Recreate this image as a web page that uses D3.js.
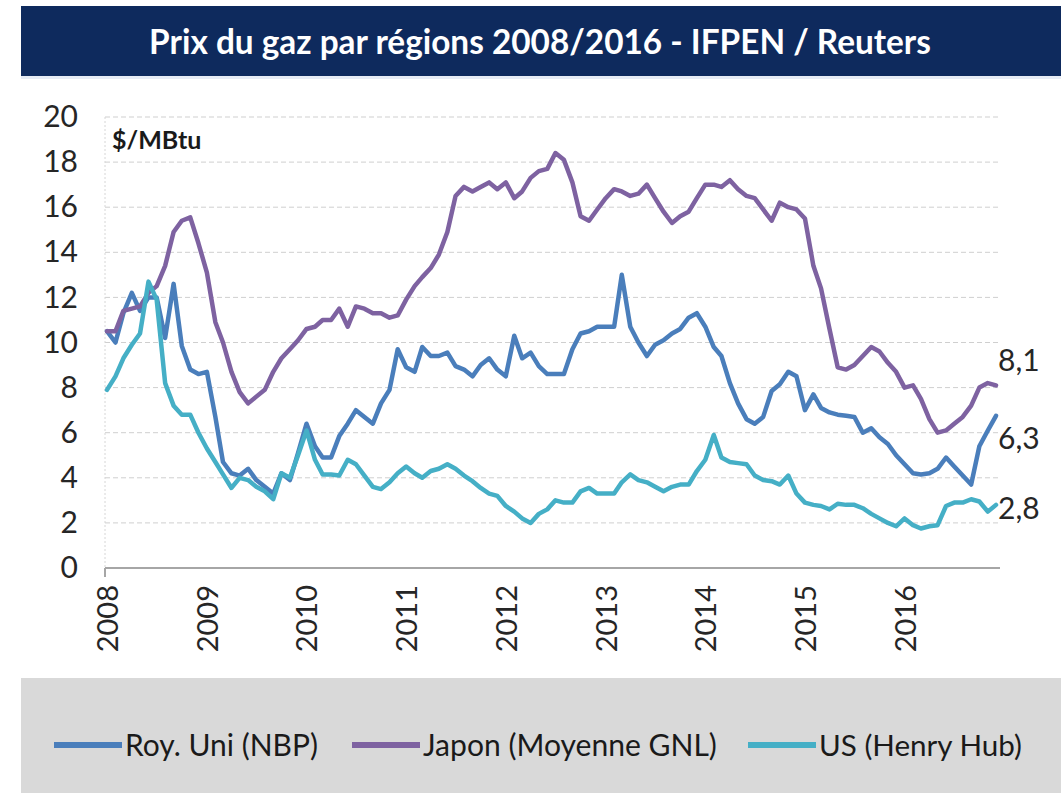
<!DOCTYPE html>
<html>
<head>
<meta charset="utf-8">
<script src="https://cdn.jsdelivr.net/npm/d3@7"></script>
<style>
  body { margin: 0; background: #fff; }
  svg { display: block; font-family: Lato, "Open Sans", sans-serif; }
</style>
</head>
<body>
<div id="chart"></div>
<script>
// Prix du gaz par regions, mensuel, janv. 2008 - dec. 2016 ($/MBtu)
var years = [2008, 2009, 2010, 2011, 2012, 2013, 2014, 2015, 2016];

var seriesNames = ["Roy. Uni (NBP)", "Japon (Moyenne GNL)", "US (Henry Hub)"];
var seriesColors = ["#4a7ebb", "#7e62a1", "#45afc6"];

// Roy. Uni (NBP)
var nbp = [
	10.5, 10.0, 11.3, 12.2, 11.4, 12.0, 12.0, 10.2, 12.6, 9.85, 8.8, 8.6,
	8.7, 6.7, 4.7, 4.2, 4.1, 4.4, 3.9, 3.6, 3.3, 4.2, 3.9, 5.1,
	6.4, 5.4, 4.9, 4.9, 5.85, 6.4, 7.0, 6.7, 6.4, 7.3, 7.9, 9.7,
	8.9, 8.7, 9.8, 9.4, 9.4, 9.55, 8.95, 8.8, 8.5, 9.0, 9.3, 8.8,
	8.5, 10.3, 9.3, 9.55, 8.95, 8.6, 8.6, 8.6, 9.7, 10.4, 10.5, 10.7,
	10.7, 10.7, 13.0, 10.7, 10.0, 9.4, 9.9, 10.1, 10.4, 10.6, 11.1, 11.3,
	10.7, 9.8, 9.4, 8.2, 7.3, 6.6, 6.4, 6.7, 7.85, 8.15, 8.7, 8.5,
	7.0, 7.7, 7.1, 6.9, 6.8, 6.75, 6.7, 6.0, 6.2, 5.8, 5.5, 5.0,
	4.6, 4.2, 4.15, 4.2, 4.4, 4.9, 4.5, 4.1, 3.7, 5.4, 6.1, 6.75
];

// Japon (Moyenne GNL)
var japon = [
	10.5, 10.5, 11.4, 11.5, 11.6, 12.2, 12.5, 13.4, 14.9, 15.4, 15.55, 14.4,
	13.1, 10.9, 10.0, 8.7, 7.8, 7.3, 7.6, 7.9, 8.7, 9.3, 9.7, 10.1,
	10.6, 10.7, 11.0, 11.0, 11.5, 10.7, 11.6, 11.5, 11.3, 11.3, 11.1, 11.2,
	11.9, 12.5, 12.9, 13.3, 13.9, 14.9, 16.5, 16.9, 16.7, 16.9, 17.1, 16.8,
	17.1, 16.4, 16.7, 17.3, 17.6, 17.7, 18.4, 18.1, 17.1, 15.6, 15.4, 15.9,
	16.4, 16.8, 16.7, 16.5, 16.6, 17.0, 16.4, 15.8, 15.3, 15.6, 15.8, 16.4,
	17.0, 17.0, 16.9, 17.2, 16.8, 16.5, 16.4, 15.9, 15.4, 16.2, 16.0, 15.9,
	15.5, 13.4, 12.4, 10.6, 8.9, 8.8, 9.0, 9.4, 9.8, 9.6, 9.1, 8.7,
	8.0, 8.1, 7.5, 6.6, 6.0, 6.1, 6.4, 6.7, 7.2, 8.0, 8.2, 8.1
];

// US (Henry Hub)
var henryHub = [
	7.9, 8.5, 9.3, 9.9, 10.4, 12.7, 11.9, 8.2, 7.2, 6.8, 6.8, 6.0,
	5.3, 4.7, 4.15, 3.55, 4.0, 3.9, 3.6, 3.4, 3.05, 4.2, 4.0, 5.0,
	6.1, 4.8, 4.15, 4.15, 4.1, 4.8, 4.6, 4.1, 3.6, 3.5, 3.8, 4.2,
	4.5, 4.2, 4.0, 4.3, 4.4, 4.6, 4.4, 4.1, 3.85, 3.55, 3.3, 3.2,
	2.75, 2.5, 2.2, 2.0, 2.4, 2.6, 3.0, 2.9, 2.9, 3.4, 3.55, 3.3,
	3.3, 3.3, 3.8, 4.15, 3.9, 3.8, 3.6, 3.4, 3.6, 3.7, 3.7, 4.3,
	4.8, 5.9, 4.9, 4.7, 4.65, 4.6, 4.1, 3.9, 3.85, 3.7, 4.1, 3.3,
	2.9, 2.8, 2.75, 2.6, 2.85, 2.8, 2.8, 2.65, 2.4, 2.2, 2.0, 1.85,
	2.2, 1.9, 1.75, 1.85, 1.9, 2.75, 2.9, 2.9, 3.05, 2.95, 2.5, 2.8
];

var yTicks = [0, 2, 4, 6, 8, 10, 12, 14, 16, 18, 20];

// Last values written at the right end of the lines
var endLabels = ["8,1", "6,3", "2,8"];
var endLabelAt = [9.2, 5.75, 2.65];	// label heights in $/MBtu

var W = 1061, H = 793;
var PLOT_L = 105, PLOT_R = 1000, PLOT_T = 117, PLOT_B = 568;

var months = d3.range(nbp.length).map(function(i) { return new Date(2008, i, 1); });
var series = [nbp, japon, henryHub];

var svg = d3.select("#chart").append("svg")
	.attr("width", W)
	.attr("height", H);

svg.append("rect").attr("width", W).attr("height", H).attr("fill", "#fff");

// Title band
svg.append("rect")
	.attr("x", 21).attr("y", 6)
	.attr("width", W - 21).attr("height", 70)
	.attr("fill", "#0e2a5d");
svg.append("rect")
	.attr("x", 21).attr("y", 76)
	.attr("width", W - 21).attr("height", 3)
	.attr("fill", "#e6ecf5");

var title = svg.append("text")
	.attr("x", 540).attr("y", 54)
	.attr("text-anchor", "middle")
	.attr("font-weight", "bold")
	.attr("font-size", 29)
	.attr("fill", "#fff")
	.text("Prix du gaz par régions 2008/2016 - IFPEN / Reuters");

// scale a text so it spans the given width
var fitWidth = function(sel, w) {
	var len = sel.node().getComputedTextLength();
	var fs = parseFloat(sel.attr("font-size"));
	sel.attr("font-size", fs * w / len);
};
fitWidth(title, 782);

// Scales
var x = d3.scaleTime()
	.domain([months[0], months[months.length - 1]])
	.range([107, 996]);

var y = d3.scaleLinear()
	.domain([0, 20])
	.range([PLOT_B, PLOT_T]);

// Gridlines
svg.append("g")
	.selectAll("line")
	.data(yTicks.filter(function(d) { return d > 0; }))
	.enter()
	.append("line")
	.attr("x1", PLOT_L).attr("x2", PLOT_R)
	.attr("y1", function(d) { return y(d); })
	.attr("y2", function(d) { return y(d); })
	.attr("stroke", "#cfcfcf")
	.attr("stroke-width", 1)
	.attr("stroke-dasharray", "5,3");

svg.append("line")
	.attr("x1", PLOT_L).attr("x2", PLOT_L)
	.attr("y1", PLOT_T).attr("y2", PLOT_B)
	.attr("stroke", "#d6d6d6")
	.attr("stroke-dasharray", "2,2");

// Y axis labels
var yAxis = svg.append("g")
	.attr("transform", "translate(" + 78 + ",0)")
	.call(d3.axisLeft(y).tickValues(yTicks).tickSize(0).tickPadding(0));
yAxis.select(".domain").remove();
yAxis.selectAll("text")
	.attr("font-family", "Lato, 'Open Sans', sans-serif")
	.attr("font-size", 30)
	.attr("fill", "#262626");

// X axis
var xAxis = svg.append("g")
	.attr("transform", "translate(0," + PLOT_B + ")")
	.call(d3.axisBottom(x)
		.tickValues(years.map(function(yr) { return new Date(yr, 0, 1); }))
		.tickFormat(d3.timeFormat("%Y"))
		.tickSize(0));
xAxis.select(".domain").remove();
xAxis.selectAll("text")
	.attr("font-family", "Lato, 'Open Sans', sans-serif")
	.attr("font-size", 29)
	.attr("fill", "#262626")
	.attr("transform", "rotate(-90)")
	.attr("text-anchor", "end")
	.attr("x", -17)
	.attr("y", 0)
	.attr("dy", "0.36em");

svg.append("line")
	.attr("x1", PLOT_L).attr("x2", PLOT_R)
	.attr("y1", PLOT_B).attr("y2", PLOT_B)
	.attr("stroke", "#a6a6a6")
	.attr("stroke-width", 2);
svg.append("line")
	.attr("x1", PLOT_L).attr("x2", PLOT_L)
	.attr("y1", PLOT_B).attr("y2", PLOT_B + 9)
	.attr("stroke", "#a6a6a6")
	.attr("stroke-width", 2);

// Unit
svg.append("text")
	.attr("x", 112).attr("y", 149)
	.attr("font-weight", "bold")
	.attr("font-size", 25)
	.attr("fill", "#1a1a1a")
	.text("$/MBtu");

// Lines
var line = d3.line()
	.x(function(d, i) { return x(months[i]); })
	.y(function(d) { return y(d); });

svg.append("g")
	.selectAll("path")
	.data(series)
	.enter()
	.append("path")
	.attr("d", line)
	.attr("fill", "none")
	.attr("stroke", function(d, i) { return seriesColors[i]; })
	.attr("stroke-width", 4.5)
	.attr("stroke-linejoin", "round")
	.attr("stroke-linecap", "round");

// End labels
svg.append("g")
	.selectAll("text")
	.data(endLabels)
	.enter()
	.append("text")
	.attr("x", x(months[months.length - 1]) + 2)
	.attr("y", function(d, i) { return y(endLabelAt[i]); })
	.attr("dy", "0.36em")
	.attr("font-size", 30)
	.attr("fill", "#262626")
	.text(function(d) { return d; });

// Legend
svg.append("rect")
	.attr("x", 21).attr("y", 678)
	.attr("width", W - 21).attr("height", H - 678)
	.attr("fill", "#d9d9d9");

var legendX = [54, 352, 748];
var legendW = [193, 294, 203];
var LEG_Y = 745;

var items = svg.append("g")
	.selectAll("g")
	.data(seriesNames)
	.enter()
	.append("g")
	.attr("transform", function(d, i) { return "translate(" + legendX[i] + "," + LEG_Y + ")"; });

items.append("line")
	.attr("x1", 0).attr("x2", 68)
	.attr("stroke", function(d, i) { return seriesColors[i]; })
	.attr("stroke-width", 6);

items.append("text")
	.attr("x", 71)
	.attr("dy", "0.36em")
	.attr("font-size", 30)
	.attr("fill", "#1a1a1a")
	.text(function(d) { return d; })
	.each(function(d, i) { fitWidth(d3.select(this), legendW[i]); });
</script>
</body>
</html>
